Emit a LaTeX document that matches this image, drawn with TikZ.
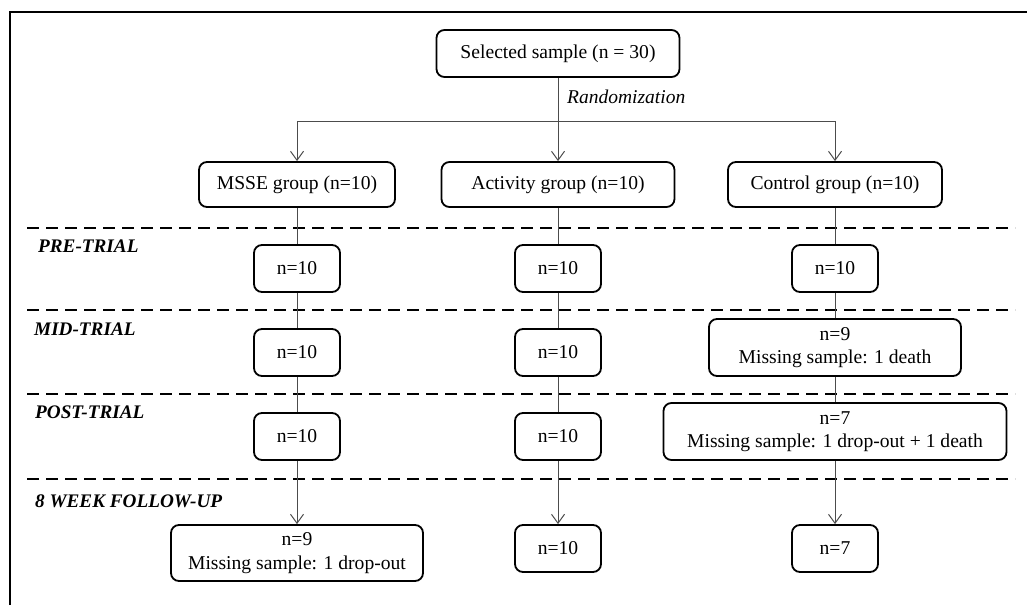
\documentclass[tikz,border=0pt]{standalone}
\usepackage{fontspec}
\setmainfont{Liberation Serif}
\usetikzlibrary{arrows.meta}
\begin{document}
\begin{tikzpicture}[x=1pt,y=-1pt,
  box/.style={draw=black,line width=1.8pt,rounded corners=8pt,align=center,inner sep=0pt,font=\fontsize{19.6}{23.5}\selectfont},
  conn/.style={draw=black!70,line width=1pt},
  arr/.style={conn,-{Straight Barb[length=9pt,width=13pt,line width=1pt]}},
  sep/.style={draw=black,line width=2pt,dash pattern=on 12pt off 7pt},
  phase/.style={anchor=west,inner sep=0pt,font=\fontsize{19.2}{22}\selectfont\bfseries\itshape}]
\useasboundingbox (0,0) rectangle (1027,605);
% frame
\draw[line width=2.4pt] (10,605) -- (10,12) -- (1027,12);
% dashed separators
\foreach \yy in {228,310,394,479} \draw[sep] (27,\yy) -- (1015,\yy);
% phase labels
\node[phase] (lpre) at (38,246) {PRE-TRIAL};
\node[phase] (lmid) at (34,329) {MID-TRIAL};
\node[phase] (lpost) at (35,412) {POST-TRIAL};
\node[phase] (lfu) at (35,501) {8 WEEK FOLLOW-UP};
% nodes
\node[box,minimum width=243pt,minimum height=47pt] (sel) at (558,53.5) {Selected sample (n = 30)};
\node[box,minimum width=196pt,minimum height=45pt] (g1) at (297,184.5) {MSSE group (n=10)};
\node[box,minimum width=233pt,minimum height=45pt] (g2) at (558,184.5) {Activity group (n=10)};
\node[box,minimum width=214pt,minimum height=45pt] (g3) at (835,184.5) {Control group (n=10)};
% pre
\node[box,minimum width=86pt,minimum height=47pt] (a1) at (297,268.5) {n=10};
\node[box,minimum width=86pt,minimum height=47pt] (a2) at (558,268.5) {n=10};
\node[box,minimum width=86pt,minimum height=47pt] (a3) at (835,268.5) {n=10};
% mid
\node[box,minimum width=86pt,minimum height=47pt] (b1) at (297,352.5) {n=10};
\node[box,minimum width=86pt,minimum height=47pt] (b2) at (558,352.5) {n=10};
\node[box,minimum width=252pt,minimum height=57pt] (b3) at (835,347.5) {n=9\\Missing sample: 1 death};
% post
\node[box,minimum width=86pt,minimum height=47pt] (c1) at (297,436.5) {n=10};
\node[box,minimum width=86pt,minimum height=47pt] (c2) at (558,436.5) {n=10};
\node[box,minimum width=343pt,minimum height=57pt] (c3) at (835,431.5) {n=7\\Missing sample: 1 drop-out + 1 death};
% follow-up
\node[box,minimum width=252pt,minimum height=56pt] (d1) at (297,553) {n=9\\Missing sample: 1 drop-out};
\node[box,minimum width=86pt,minimum height=47pt] (d2) at (558,548.5) {n=10};
\node[box,minimum width=86pt,minimum height=47pt] (d3) at (835,548.5) {n=7};
% randomization
\coordinate (split) at (558,121);
\draw[conn] (sel.south) -- (split);
\node[anchor=west,inner sep=0pt,font=\fontsize{19.5}{22}\selectfont\itshape] (rand) at (567,97) {Randomization};
\draw[arr] (split) -| (g1.north);
\draw[arr] (split) -| (g3.north);
\draw[arr] (split) -- (g2.north);
% columns
\draw[conn] (g1) -- (a1); \draw[conn] (a1) -- (b1); \draw[conn] (b1) -- (c1); \draw[arr] (c1.south) -- (d1.north);
\draw[conn] (g2) -- (a2); \draw[conn] (a2) -- (b2); \draw[conn] (b2) -- (c2); \draw[arr] (c2.south) -- (d2.north);
\draw[conn] (g3) -- (a3); \draw[conn] (a3) -- (b3); \draw[conn] (b3) -- (c3); \draw[arr] (c3.south) -- (d3.north);
\end{tikzpicture}
\end{document}
